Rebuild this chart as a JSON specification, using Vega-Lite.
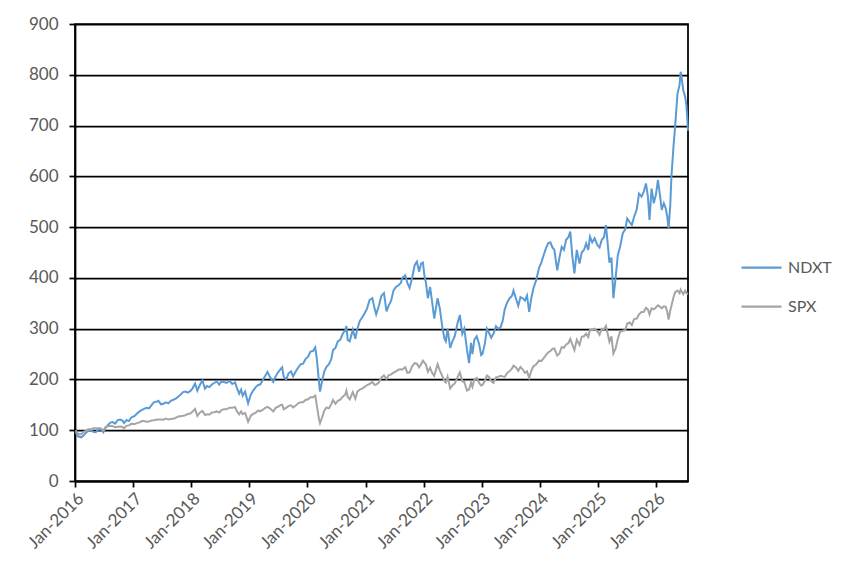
{
  "$schema": "https://vega.github.io/schema/vega-lite/v6.json",
  "autosize": "none",
  "width": 613,
  "height": 457,
  "padding": {"left": 75, "top": 24, "right": 166, "bottom": 95},
  "background": "white",
  "data": {
    "values": [
      {"d": "2016-01-04", "NDXT": 96, "SPX": 100},
      {"d": "2016-01-20", "NDXT": 88, "SPX": 93},
      {"d": "2016-02-10", "NDXT": 86, "SPX": 92},
      {"d": "2016-02-25", "NDXT": 90, "SPX": 97},
      {"d": "2016-03-10", "NDXT": 95, "SPX": 99},
      {"d": "2016-03-25", "NDXT": 99, "SPX": 101.7},
      {"d": "2016-04-10", "NDXT": 100, "SPX": 102},
      {"d": "2016-04-25", "NDXT": 97, "SPX": 104},
      {"d": "2016-05-10", "NDXT": 96, "SPX": 104},
      {"d": "2016-05-25", "NDXT": 101, "SPX": 104},
      {"d": "2016-06-10", "NDXT": 102, "SPX": 104},
      {"d": "2016-06-27", "NDXT": 96, "SPX": 99.4},
      {"d": "2016-07-10", "NDXT": 104, "SPX": 106},
      {"d": "2016-07-25", "NDXT": 110, "SPX": 108},
      {"d": "2016-08-10", "NDXT": 115, "SPX": 108.6},
      {"d": "2016-08-25", "NDXT": 116, "SPX": 108},
      {"d": "2016-09-10", "NDXT": 113, "SPX": 106},
      {"d": "2016-09-25", "NDXT": 120, "SPX": 107},
      {"d": "2016-10-10", "NDXT": 121, "SPX": 107.5},
      {"d": "2016-10-25", "NDXT": 119, "SPX": 106.5},
      {"d": "2016-11-04", "NDXT": 114, "SPX": 103.6},
      {"d": "2016-11-20", "NDXT": 120, "SPX": 109},
      {"d": "2016-12-05", "NDXT": 118, "SPX": 109.5},
      {"d": "2016-12-20", "NDXT": 125, "SPX": 112.6},
      {"d": "2017-01-10", "NDXT": 128, "SPX": 112.5},
      {"d": "2017-01-25", "NDXT": 133, "SPX": 114},
      {"d": "2017-02-10", "NDXT": 137, "SPX": 115.5},
      {"d": "2017-02-25", "NDXT": 140, "SPX": 118},
      {"d": "2017-03-10", "NDXT": 142, "SPX": 118},
      {"d": "2017-03-25", "NDXT": 144, "SPX": 116.5},
      {"d": "2017-04-10", "NDXT": 143, "SPX": 117},
      {"d": "2017-04-25", "NDXT": 149, "SPX": 119},
      {"d": "2017-05-10", "NDXT": 155, "SPX": 119.5},
      {"d": "2017-05-25", "NDXT": 156, "SPX": 120.5},
      {"d": "2017-06-08", "NDXT": 158, "SPX": 121},
      {"d": "2017-06-25", "NDXT": 151, "SPX": 121},
      {"d": "2017-07-10", "NDXT": 152, "SPX": 120.8},
      {"d": "2017-07-25", "NDXT": 155, "SPX": 123},
      {"d": "2017-08-10", "NDXT": 153, "SPX": 121},
      {"d": "2017-08-25", "NDXT": 158, "SPX": 122},
      {"d": "2017-09-10", "NDXT": 160, "SPX": 122.5},
      {"d": "2017-09-25", "NDXT": 162, "SPX": 124.5},
      {"d": "2017-10-10", "NDXT": 166, "SPX": 127},
      {"d": "2017-10-25", "NDXT": 170, "SPX": 127.7},
      {"d": "2017-11-10", "NDXT": 175, "SPX": 128.5},
      {"d": "2017-11-25", "NDXT": 176, "SPX": 129.5},
      {"d": "2017-12-10", "NDXT": 174, "SPX": 132},
      {"d": "2017-12-25", "NDXT": 177, "SPX": 133},
      {"d": "2018-01-10", "NDXT": 183, "SPX": 137},
      {"d": "2018-01-25", "NDXT": 192, "SPX": 142},
      {"d": "2018-02-08", "NDXT": 178, "SPX": 128.3},
      {"d": "2018-02-25", "NDXT": 190, "SPX": 135},
      {"d": "2018-03-12", "NDXT": 198, "SPX": 138},
      {"d": "2018-03-28", "NDXT": 182, "SPX": 130},
      {"d": "2018-04-10", "NDXT": 187, "SPX": 131.5},
      {"d": "2018-04-25", "NDXT": 185, "SPX": 131},
      {"d": "2018-05-10", "NDXT": 190, "SPX": 135},
      {"d": "2018-05-25", "NDXT": 193, "SPX": 135.5},
      {"d": "2018-06-10", "NDXT": 196, "SPX": 137},
      {"d": "2018-06-25", "NDXT": 190, "SPX": 135},
      {"d": "2018-07-10", "NDXT": 196, "SPX": 139.5},
      {"d": "2018-07-25", "NDXT": 195, "SPX": 141.5},
      {"d": "2018-08-10", "NDXT": 193, "SPX": 141.5},
      {"d": "2018-08-30", "NDXT": 197, "SPX": 144.5},
      {"d": "2018-09-15", "NDXT": 191, "SPX": 144.5},
      {"d": "2018-10-03", "NDXT": 194, "SPX": 145.5},
      {"d": "2018-10-15", "NDXT": 183, "SPX": 137},
      {"d": "2018-10-29", "NDXT": 172, "SPX": 131.3},
      {"d": "2018-11-10", "NDXT": 180, "SPX": 137},
      {"d": "2018-11-20", "NDXT": 168, "SPX": 131.5},
      {"d": "2018-12-05", "NDXT": 176, "SPX": 134},
      {"d": "2018-12-24", "NDXT": 153, "SPX": 116.8},
      {"d": "2019-01-10", "NDXT": 170, "SPX": 128.5},
      {"d": "2019-01-25", "NDXT": 178, "SPX": 132},
      {"d": "2019-02-10", "NDXT": 185, "SPX": 134.5},
      {"d": "2019-02-25", "NDXT": 189, "SPX": 139},
      {"d": "2019-03-10", "NDXT": 190, "SPX": 137},
      {"d": "2019-03-25", "NDXT": 198, "SPX": 140},
      {"d": "2019-04-10", "NDXT": 207, "SPX": 144},
      {"d": "2019-04-25", "NDXT": 215, "SPX": 146},
      {"d": "2019-05-10", "NDXT": 205, "SPX": 143},
      {"d": "2019-05-31", "NDXT": 195, "SPX": 136.8},
      {"d": "2019-06-15", "NDXT": 206, "SPX": 144},
      {"d": "2019-06-30", "NDXT": 214, "SPX": 146.2},
      {"d": "2019-07-15", "NDXT": 220, "SPX": 149.5},
      {"d": "2019-07-26", "NDXT": 224, "SPX": 150.4},
      {"d": "2019-08-05", "NDXT": 205, "SPX": 141.4},
      {"d": "2019-08-20", "NDXT": 200, "SPX": 144},
      {"d": "2019-09-05", "NDXT": 212, "SPX": 148},
      {"d": "2019-09-20", "NDXT": 216, "SPX": 149},
      {"d": "2019-10-03", "NDXT": 206, "SPX": 145},
      {"d": "2019-10-20", "NDXT": 216, "SPX": 148.5},
      {"d": "2019-11-05", "NDXT": 224, "SPX": 153.5},
      {"d": "2019-11-20", "NDXT": 230, "SPX": 155},
      {"d": "2019-12-05", "NDXT": 231, "SPX": 155},
      {"d": "2019-12-20", "NDXT": 240, "SPX": 159.5},
      {"d": "2020-01-05", "NDXT": 245, "SPX": 161},
      {"d": "2020-01-20", "NDXT": 255, "SPX": 165},
      {"d": "2020-02-05", "NDXT": 256, "SPX": 165},
      {"d": "2020-02-19", "NDXT": 263, "SPX": 168.3},
      {"d": "2020-03-01", "NDXT": 238, "SPX": 147},
      {"d": "2020-03-12", "NDXT": 200, "SPX": 124},
      {"d": "2020-03-20", "NDXT": 176, "SPX": 114},
      {"d": "2020-04-01", "NDXT": 195, "SPX": 124},
      {"d": "2020-04-15", "NDXT": 215, "SPX": 138},
      {"d": "2020-04-30", "NDXT": 225, "SPX": 144.7},
      {"d": "2020-05-15", "NDXT": 230, "SPX": 143},
      {"d": "2020-05-30", "NDXT": 240, "SPX": 151.3},
      {"d": "2020-06-10", "NDXT": 258, "SPX": 159.5},
      {"d": "2020-06-25", "NDXT": 262, "SPX": 152},
      {"d": "2020-07-10", "NDXT": 275, "SPX": 158},
      {"d": "2020-07-25", "NDXT": 278, "SPX": 160},
      {"d": "2020-08-10", "NDXT": 290, "SPX": 166},
      {"d": "2020-08-25", "NDXT": 297, "SPX": 170},
      {"d": "2020-09-02", "NDXT": 305, "SPX": 177.9},
      {"d": "2020-09-10", "NDXT": 278, "SPX": 166},
      {"d": "2020-09-23", "NDXT": 275, "SPX": 160.9},
      {"d": "2020-10-12", "NDXT": 298, "SPX": 175},
      {"d": "2020-10-28", "NDXT": 280, "SPX": 162},
      {"d": "2020-11-10", "NDXT": 300, "SPX": 176},
      {"d": "2020-11-25", "NDXT": 315, "SPX": 180},
      {"d": "2020-12-10", "NDXT": 322, "SPX": 182},
      {"d": "2020-12-28", "NDXT": 332, "SPX": 185.7},
      {"d": "2021-01-10", "NDXT": 340, "SPX": 189},
      {"d": "2021-01-25", "NDXT": 356, "SPX": 191},
      {"d": "2021-02-12", "NDXT": 360, "SPX": 195},
      {"d": "2021-02-26", "NDXT": 340, "SPX": 189.4},
      {"d": "2021-03-08", "NDXT": 328, "SPX": 190},
      {"d": "2021-03-25", "NDXT": 345, "SPX": 194},
      {"d": "2021-04-10", "NDXT": 365, "SPX": 204},
      {"d": "2021-04-26", "NDXT": 370, "SPX": 208},
      {"d": "2021-05-12", "NDXT": 334, "SPX": 201},
      {"d": "2021-05-25", "NDXT": 345, "SPX": 208},
      {"d": "2021-06-10", "NDXT": 355, "SPX": 210},
      {"d": "2021-06-25", "NDXT": 375, "SPX": 213.5},
      {"d": "2021-07-10", "NDXT": 382, "SPX": 216},
      {"d": "2021-07-25", "NDXT": 385, "SPX": 219},
      {"d": "2021-08-10", "NDXT": 390, "SPX": 220},
      {"d": "2021-08-20", "NDXT": 400, "SPX": 219.5},
      {"d": "2021-09-07", "NDXT": 405, "SPX": 224},
      {"d": "2021-09-20", "NDXT": 390, "SPX": 213},
      {"d": "2021-10-04", "NDXT": 380, "SPX": 214},
      {"d": "2021-10-20", "NDXT": 400, "SPX": 226},
      {"d": "2021-11-05", "NDXT": 425, "SPX": 232},
      {"d": "2021-11-19", "NDXT": 432, "SPX": 231},
      {"d": "2021-12-03", "NDXT": 412, "SPX": 224},
      {"d": "2021-12-15", "NDXT": 428, "SPX": 230},
      {"d": "2021-12-27", "NDXT": 430, "SPX": 237},
      {"d": "2022-01-05", "NDXT": 405, "SPX": 233},
      {"d": "2022-01-14", "NDXT": 392, "SPX": 230},
      {"d": "2022-01-27", "NDXT": 360, "SPX": 215},
      {"d": "2022-02-10", "NDXT": 382, "SPX": 223},
      {"d": "2022-02-24", "NDXT": 350, "SPX": 212},
      {"d": "2022-03-08", "NDXT": 320, "SPX": 207},
      {"d": "2022-03-29", "NDXT": 360, "SPX": 230},
      {"d": "2022-04-12", "NDXT": 340, "SPX": 218},
      {"d": "2022-04-29", "NDXT": 300, "SPX": 205.4},
      {"d": "2022-05-12", "NDXT": 280, "SPX": 196},
      {"d": "2022-05-20", "NDXT": 275, "SPX": 194},
      {"d": "2022-05-31", "NDXT": 300, "SPX": 205.4},
      {"d": "2022-06-16", "NDXT": 262, "SPX": 182.3},
      {"d": "2022-06-30", "NDXT": 275, "SPX": 188},
      {"d": "2022-07-15", "NDXT": 285, "SPX": 192},
      {"d": "2022-08-01", "NDXT": 310, "SPX": 204},
      {"d": "2022-08-16", "NDXT": 327, "SPX": 214},
      {"d": "2022-08-31", "NDXT": 290, "SPX": 196.6},
      {"d": "2022-09-13", "NDXT": 300, "SPX": 195},
      {"d": "2022-09-30", "NDXT": 258, "SPX": 178.2},
      {"d": "2022-10-13", "NDXT": 232, "SPX": 180},
      {"d": "2022-10-25", "NDXT": 272, "SPX": 194},
      {"d": "2022-11-03", "NDXT": 250, "SPX": 185.5},
      {"d": "2022-11-15", "NDXT": 278, "SPX": 200},
      {"d": "2022-11-30", "NDXT": 285, "SPX": 202.8},
      {"d": "2022-12-15", "NDXT": 270, "SPX": 193},
      {"d": "2022-12-28", "NDXT": 248, "SPX": 188},
      {"d": "2023-01-05", "NDXT": 250, "SPX": 189},
      {"d": "2023-01-20", "NDXT": 270, "SPX": 197},
      {"d": "2023-02-02", "NDXT": 300, "SPX": 207.8},
      {"d": "2023-02-15", "NDXT": 292, "SPX": 205},
      {"d": "2023-03-01", "NDXT": 282, "SPX": 196.5},
      {"d": "2023-03-15", "NDXT": 290, "SPX": 193},
      {"d": "2023-03-31", "NDXT": 305, "SPX": 204.2},
      {"d": "2023-04-14", "NDXT": 300, "SPX": 205},
      {"d": "2023-04-28", "NDXT": 302, "SPX": 207.2},
      {"d": "2023-05-12", "NDXT": 315, "SPX": 206},
      {"d": "2023-05-25", "NDXT": 338, "SPX": 205},
      {"d": "2023-06-10", "NDXT": 352, "SPX": 213},
      {"d": "2023-06-25", "NDXT": 360, "SPX": 216.5},
      {"d": "2023-07-10", "NDXT": 365, "SPX": 221.5},
      {"d": "2023-07-19", "NDXT": 375, "SPX": 227},
      {"d": "2023-08-03", "NDXT": 360, "SPX": 224},
      {"d": "2023-08-18", "NDXT": 345, "SPX": 217},
      {"d": "2023-09-01", "NDXT": 362, "SPX": 224.5},
      {"d": "2023-09-15", "NDXT": 360, "SPX": 220},
      {"d": "2023-09-29", "NDXT": 355, "SPX": 213.1},
      {"d": "2023-10-12", "NDXT": 365, "SPX": 216},
      {"d": "2023-10-26", "NDXT": 333, "SPX": 203},
      {"d": "2023-11-08", "NDXT": 360, "SPX": 217},
      {"d": "2023-11-22", "NDXT": 380, "SPX": 226},
      {"d": "2023-12-08", "NDXT": 395, "SPX": 229.5},
      {"d": "2023-12-27", "NDXT": 420, "SPX": 237.5},
      {"d": "2024-01-10", "NDXT": 430, "SPX": 236},
      {"d": "2024-01-25", "NDXT": 445, "SPX": 242},
      {"d": "2024-02-08", "NDXT": 458, "SPX": 248},
      {"d": "2024-02-22", "NDXT": 468, "SPX": 253},
      {"d": "2024-03-07", "NDXT": 470, "SPX": 256},
      {"d": "2024-03-20", "NDXT": 460, "SPX": 260},
      {"d": "2024-04-01", "NDXT": 455, "SPX": 261},
      {"d": "2024-04-19", "NDXT": 415, "SPX": 246.9},
      {"d": "2024-05-03", "NDXT": 440, "SPX": 251},
      {"d": "2024-05-17", "NDXT": 461, "SPX": 264},
      {"d": "2024-05-31", "NDXT": 455, "SPX": 262.3},
      {"d": "2024-06-14", "NDXT": 475, "SPX": 269},
      {"d": "2024-06-28", "NDXT": 480, "SPX": 271.4},
      {"d": "2024-07-10", "NDXT": 491, "SPX": 280},
      {"d": "2024-07-24", "NDXT": 440, "SPX": 268},
      {"d": "2024-08-05", "NDXT": 409, "SPX": 257.8},
      {"d": "2024-08-20", "NDXT": 455, "SPX": 278},
      {"d": "2024-09-06", "NDXT": 428, "SPX": 268},
      {"d": "2024-09-20", "NDXT": 450, "SPX": 284},
      {"d": "2024-10-04", "NDXT": 455, "SPX": 285},
      {"d": "2024-10-18", "NDXT": 468, "SPX": 290},
      {"d": "2024-10-31", "NDXT": 455, "SPX": 283.5},
      {"d": "2024-11-11", "NDXT": 481, "SPX": 298},
      {"d": "2024-11-25", "NDXT": 470, "SPX": 298},
      {"d": "2024-12-10", "NDXT": 478, "SPX": 300},
      {"d": "2024-12-27", "NDXT": 465, "SPX": 295},
      {"d": "2025-01-10", "NDXT": 460, "SPX": 288},
      {"d": "2025-01-24", "NDXT": 475, "SPX": 300},
      {"d": "2025-02-07", "NDXT": 480, "SPX": 299},
      {"d": "2025-02-19", "NDXT": 504, "SPX": 305.4},
      {"d": "2025-03-03", "NDXT": 465, "SPX": 289},
      {"d": "2025-03-13", "NDXT": 430, "SPX": 274.4},
      {"d": "2025-03-26", "NDXT": 440, "SPX": 285},
      {"d": "2025-04-07", "NDXT": 360, "SPX": 251},
      {"d": "2025-04-21", "NDXT": 400, "SPX": 261},
      {"d": "2025-05-05", "NDXT": 445, "SPX": 280},
      {"d": "2025-05-19", "NDXT": 461, "SPX": 294},
      {"d": "2025-06-05", "NDXT": 488, "SPX": 296},
      {"d": "2025-06-20", "NDXT": 495, "SPX": 297},
      {"d": "2025-07-03", "NDXT": 517, "SPX": 310},
      {"d": "2025-07-18", "NDXT": 510, "SPX": 312},
      {"d": "2025-08-01", "NDXT": 504, "SPX": 307},
      {"d": "2025-08-15", "NDXT": 520, "SPX": 319},
      {"d": "2025-09-01", "NDXT": 535, "SPX": 320},
      {"d": "2025-09-15", "NDXT": 566, "SPX": 328},
      {"d": "2025-10-01", "NDXT": 560, "SPX": 333},
      {"d": "2025-10-15", "NDXT": 570, "SPX": 333},
      {"d": "2025-10-29", "NDXT": 586, "SPX": 341},
      {"d": "2025-11-10", "NDXT": 560, "SPX": 338},
      {"d": "2025-11-20", "NDXT": 514, "SPX": 328},
      {"d": "2025-12-03", "NDXT": 576, "SPX": 340},
      {"d": "2025-12-17", "NDXT": 547, "SPX": 338},
      {"d": "2025-12-31", "NDXT": 565, "SPX": 342},
      {"d": "2026-01-12", "NDXT": 593, "SPX": 346},
      {"d": "2026-01-26", "NDXT": 560, "SPX": 343},
      {"d": "2026-02-05", "NDXT": 534, "SPX": 340},
      {"d": "2026-02-18", "NDXT": 547, "SPX": 344},
      {"d": "2026-03-02", "NDXT": 537, "SPX": 343},
      {"d": "2026-03-12", "NDXT": 520, "SPX": 333},
      {"d": "2026-03-20", "NDXT": 498, "SPX": 318},
      {"d": "2026-03-30", "NDXT": 540, "SPX": 335},
      {"d": "2026-04-07", "NDXT": 600, "SPX": 345},
      {"d": "2026-04-20", "NDXT": 660, "SPX": 362},
      {"d": "2026-04-30", "NDXT": 698, "SPX": 372},
      {"d": "2026-05-15", "NDXT": 763, "SPX": 375},
      {"d": "2026-05-28", "NDXT": 780, "SPX": 370},
      {"d": "2026-06-04", "NDXT": 806, "SPX": 377},
      {"d": "2026-06-12", "NDXT": 790, "SPX": 372},
      {"d": "2026-06-20", "NDXT": 770, "SPX": 368},
      {"d": "2026-07-02", "NDXT": 757, "SPX": 375},
      {"d": "2026-07-10", "NDXT": 740, "SPX": 370},
      {"d": "2026-07-20", "NDXT": 690, "SPX": 368}
    ]
  },
  "transform": [{"fold": ["NDXT", "SPX"], "as": ["series", "value"]}],
  "mark": {"type": "line", "strokeWidth": 2, "interpolate": "linear"},
  "encoding": {
    "x": {
      "field": "d",
      "type": "temporal",
      "scale": {"domain": [{"year": 2016, "month": 1, "date": 1}, {"year": 2026, "month": 7, "date": 20}], "nice": false},
      "axis": {"format": "%b-%Y", "labelAngle": -45, "tickCount": {"interval": "year", "step": 1}, "labelOverlap": false, "labelBound": false, "labelFlush": false, "grid": false, "labelPadding": 3, "title": null}
    },
    "y": {
      "field": "value",
      "type": "quantitative",
      "scale": {"domain": [0, 900], "nice": false},
      "axis": {"values": [0, 100, 200, 300, 400, 500, 600, 700, 800, 900], "grid": true, "gridColor": "black", "gridWidth": 1.75, "gridOpacity": 1, "labelPadding": 11, "title": null}
    },
    "color": {
      "field": "series",
      "type": "nominal",
      "scale": {"domain": ["NDXT", "SPX"], "range": ["#5B9BD5", "#A5A5A5"]},
      "legend": {"orient": "none", "legendX": 665, "legendY": 222, "title": null, "symbolType": "stroke", "symbolSize": 1600, "symbolStrokeWidth": 2.25, "labelFontSize": 16, "labelColor": "#595959", "labelOffset": 5, "rowPadding": 9}
    }
  },
  "config": {
    "font": "Lato",
    "view": {"stroke": "black", "strokeWidth": 1.75},
    "axis": {"labelFont": "Lato", "labelFontSize": 17, "labelColor": "#595959", "domainColor": "black", "domainWidth": 1.75, "tickColor": "black", "tickWidth": 1.75, "tickSize": 6},
    "legend": {"labelFont": "Lato"}
  }
}
